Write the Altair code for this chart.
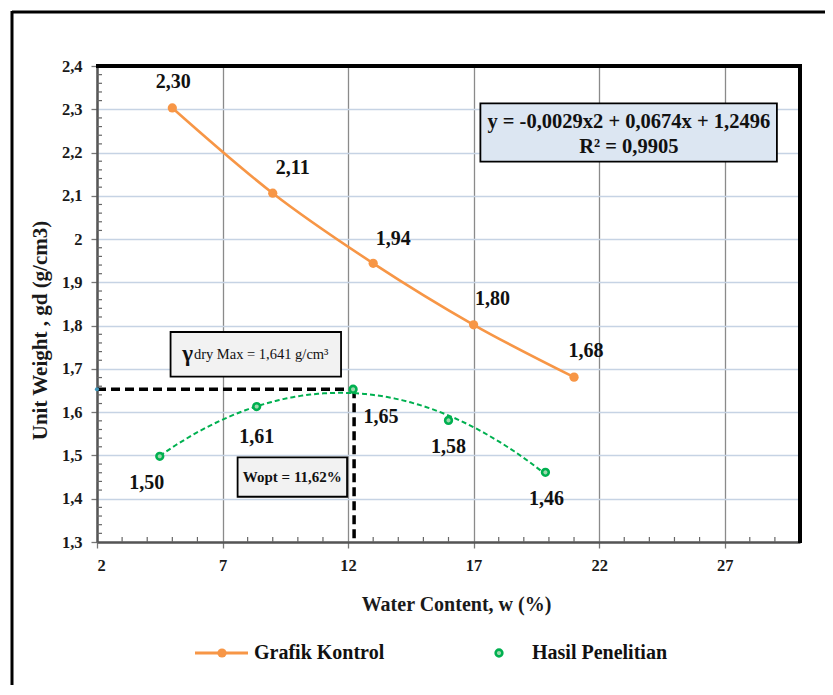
import altair as alt
import pandas as pd

# ---------------- data ----------------
w_kontrol = [5, 9, 13, 17, 21]
gd_kontrol = [2.303, 2.106, 1.944, 1.802, 1.681]
lab_kontrol = ["2,30", "2,11", "1,94", "1,80", "1,68"]

w_hasil = [4.5, 8.36, 12.2, 16.0, 19.86]
gd_hasil = [1.498, 1.613, 1.653, 1.581, 1.461]
lab_hasil = ["1,50", "1,61", "1,65", "1,58", "1,46"]

w_opt_line = 12.24
gd_max_line = 1.653

x_ticks = [2, 7, 12, 17, 22, 27]
y_ticks = [1.3, 1.4, 1.5, 1.6, 1.7, 1.8, 1.9, 2.0, 2.1, 2.2, 2.3, 2.4]
x_domain = [2, 30]
y_domain = [1.3, 2.4]

eq_lines = ["y = -0,0029x2 + 0,0674x + 1,2496", "R² = 0,9905"]
gamma_sym = "γ"
gamma_text = "dry Max = 1,641  g/cm³"
wopt_text = "Wopt = 11,62%"
series_names = ["Grafik Kontrol", "Hasil Penelitian"]
x_title = "Water Content, w (%)"
y_title = "Unit  Weight , gd (g/cm3)"

# ---------------- styles ----------------
SERIF = "Liberation Serif"
ORANGE = "#f79646"
GREEN = "#00b050"
GREEN_FILL = "#9fd8ae"

ctrl_label_off = [(1, -26), (20, -25), (20, -24), (19, -26), (12, -26)]
hasil_label_off = [(-13, 27), (0, 30), (28, 28), (0, 27), (1, 27)]

W, H = 703, 476

df_k = pd.DataFrame({"x": w_kontrol, "y": gd_kontrol, "lab": lab_kontrol,
                     "i": list(range(len(w_kontrol)))})
df_h = pd.DataFrame({"x": w_hasil, "y": gd_hasil, "lab": lab_hasil,
                     "i": list(range(len(w_hasil)))})

xscale = alt.Scale(domain=x_domain, nice=False, zero=False)
yscale = alt.Scale(domain=y_domain, nice=False, zero=False)

xaxis = alt.Axis(values=x_ticks, grid=True, gridColor="#8a8a8a", gridWidth=1.3,
                 domain=True, domainColor="#555555", domainWidth=2.5,
                 ticks=True, tickColor="#777777", tickSize=6, tickWidth=1.3,
                 labelFont=SERIF, labelFontSize=16.5, labelFontWeight="bold",
                 labelColor="#1a1a1a", labelPadding=9,
                 title=x_title, titleFont=SERIF, titleFontSize=20,
                 titleFontWeight="bold", titleColor="#1a1a1a",
                 titleX=359, titleY=62, titleAlign="center",
                 titleBaseline="middle")
yaxis = alt.Axis(values=y_ticks, grid=True, gridColor="#c6d3e4", gridWidth=1.3,
                 domain=True, domainColor="#555555", domainWidth=2.5,
                 ticks=True, tickColor="#777777", tickSize=6, tickWidth=1.3,
                 labelFont=SERIF, labelFontSize=16.5, labelFontWeight="bold",
                 labelColor="#1a1a1a", labelPadding=9,
                 labelExpr="replace(format(datum.value, '.1~f'), '.', ',')",
                 title=y_title, titleFont=SERIF, titleFontSize=21,
                 titleFontWeight="bold", titleColor="#1a1a1a",
                 titleX=-57, titleY=264, titleAngle=270, titleAlign="center",
                 titleBaseline="middle")

X = alt.X("x:Q", scale=xscale, axis=xaxis)
Y = alt.Y("y:Q", scale=yscale, axis=yaxis)
X2 = alt.X2("x2:Q")
Y2 = alt.Y2("y2:Q")

one = pd.DataFrame({"a": [0]})
layers = []

# base (axes)
layers.append(alt.Chart(df_k).mark_point(opacity=0).encode(x=X, y=Y))

# minor ticks (axis decoration)
minor_x = pd.DataFrame({"x": [v for v in range(3, 30) if (v - 2) % 5 != 0]})
minor_y = pd.DataFrame({"y": [round(1.3 + 0.02 * k, 2) for k in range(1, 55) if k % 5 != 0]})
layers.append(alt.Chart(minor_x).mark_rule(color="#666666", strokeWidth=1.2).encode(
    x=X, y=alt.value(H), y2=alt.value(H - 5)))
layers.append(alt.Chart(minor_y).mark_rule(color="#666666", strokeWidth=1.2).encode(
    y=Y, x=alt.value(0), x2=alt.value(5)))

# annotation boxes
boxes = pd.DataFrame({
    "x": [17.27, 4.93, 7.60], "x2": [29.08, 11.72, 11.96],
    "y": [2.3138, 1.7853, 1.4957], "y2": [2.1788, 1.682, 1.4046],
    "fill": ["#dce6f2", "#f2f2f2", "#f2f2f2"],
})
layers.append(alt.Chart(boxes).mark_rect(stroke="black", strokeWidth=1.8).encode(
    x=X, x2=X2, y=Y, y2=Y2, fill=alt.Fill("fill:N", scale=None)))

eq_df = pd.DataFrame({"x": [23.18, 23.18], "y": [2.2713, 2.2135], "t": eq_lines})
layers.append(alt.Chart(eq_df).mark_text(font=SERIF, fontSize=20.5, fontWeight="bold",
                                         color="#111111", baseline="middle").encode(
    x=X, y=Y, text="t:N"))

gam_df = pd.DataFrame({"x": [5.82], "y": [1.734], "t": [gamma_sym]})
layers.append(alt.Chart(gam_df).mark_text(font=SERIF, fontSize=23, fontWeight="bold",
                                          color="#111111", baseline="middle", align="right").encode(
    x=X, y=Y, text="t:N"))
gam2_df = pd.DataFrame({"x": [5.86], "y": [1.732], "t": [gamma_text]})
layers.append(alt.Chart(gam2_df).mark_text(font=SERIF, fontSize=14.5,
                                           color="#111111", baseline="middle", align="left").encode(
    x=X, y=Y, text="t:N"))
wopt_df = pd.DataFrame({"x": [9.78], "y": [1.45], "t": [wopt_text]})
layers.append(alt.Chart(wopt_df).mark_text(font=SERIF, fontSize=15, fontWeight="bold",
                                           color="#111111", baseline="middle").encode(
    x=X, y=Y, text="t:N"))

# dashed optimum lines
hline = pd.DataFrame({"x": [x_domain[0]], "x2": [w_opt_line], "y": [gd_max_line]})
vline = pd.DataFrame({"x": [w_opt_line], "y": [gd_max_line], "y2": [y_domain[0]]})
layers.append(alt.Chart(hline).mark_rule(color="black", strokeWidth=3.5,
                                         strokeDash=[9, 5]).encode(x=X, x2=X2, y=Y))
layers.append(alt.Chart(vline).mark_rule(color="black", strokeWidth=3.5,
                                         strokeDash=[9, 5]).encode(x=X, y=Y, y2=Y2))

# Grafik Kontrol
layers.append(alt.Chart(df_k).mark_line(color=ORANGE, strokeWidth=2.6,
                                        interpolate="monotone").encode(x=X, y=Y))
layers.append(alt.Chart(df_k).mark_point(filled=True, color=ORANGE, size=85,
                                         opacity=1).encode(x=X, y=Y))
for i, (dx, dy) in enumerate(ctrl_label_off):
    layers.append(alt.Chart(df_k).transform_filter(alt.datum.i == i).mark_text(
        font=SERIF, fontSize=20, fontWeight="bold", color="#111111",
        dx=dx, dy=dy, baseline="middle").encode(x=X, y=Y, text="lab:N"))

# Hasil Penelitian: polynomial trendline + points
layers.append(alt.Chart(df_h).transform_regression(
    "x", "y", method="poly", order=2, extent=[w_hasil[0], w_hasil[-1]]
).mark_line(color=GREEN, strokeWidth=2, strokeDash=[5, 3]).encode(x=X, y=Y))
layers.append(alt.Chart(df_h).mark_point(filled=True, fill=GREEN_FILL, stroke=GREEN,
                                         strokeWidth=2.6, size=45, opacity=1).encode(x=X, y=Y))
for i, (dx, dy) in enumerate(hasil_label_off):
    layers.append(alt.Chart(df_h).transform_filter(alt.datum.i == i).mark_text(
        font=SERIF, fontSize=20, fontWeight="bold", color="#111111",
        dx=dx, dy=dy, baseline="middle").encode(x=X, y=Y, text="lab:N"))

# small marker on y axis at max dry density
layers.append(alt.Chart(pd.DataFrame({"x": [x_domain[0]], "y": [gd_max_line]})).mark_point(
    filled=True, color="#3f94b8", size=18, opacity=1).encode(x=X, y=Y))

# plot frame top & right (thick black)
layers.append(alt.Chart(one).mark_rule(color="black", strokeWidth=4).encode(
    x=alt.value(-1), x2=alt.value(W + 2), y=alt.value(0)))
layers.append(alt.Chart(one).mark_rule(color="black", strokeWidth=4).encode(
    x=alt.value(W), y=alt.value(0), y2=alt.value(H + 1)))

# legend (manual)
LY = 587
layers.append(alt.Chart(one).mark_rule(color=ORANGE, strokeWidth=3).encode(
    x=alt.value(98), x2=alt.value(151), y=alt.value(LY)))
layers.append(alt.Chart(one).mark_point(filled=True, color=ORANGE, size=85, opacity=1).encode(
    x=alt.value(125), y=alt.value(LY)))
layers.append(alt.Chart(one).mark_point(filled=True, fill=GREEN_FILL, stroke=GREEN,
                                        strokeWidth=2.6, size=45, opacity=1).encode(
    x=alt.value(402), y=alt.value(LY)))
layers.append(alt.Chart(pd.DataFrame({"t": [series_names[0]]})).mark_text(
    font=SERIF, fontSize=20, fontWeight="bold", color="#111111", align="left",
    baseline="middle").encode(x=alt.value(157), y=alt.value(LY), text="t:N"))
layers.append(alt.Chart(pd.DataFrame({"t": [series_names[1]]})).mark_text(
    font=SERIF, fontSize=20, fontWeight="bold", color="#111111", align="left",
    baseline="middle").encode(x=alt.value(435), y=alt.value(LY), text="t:N"))

# outer chart border (left and top edges; right/bottom fall outside the page)
layers.append(alt.Chart(one).mark_rule(color="black", strokeWidth=3).encode(
    x=alt.value(-85), x2=alt.value(740), y=alt.value(-54)))
layers.append(alt.Chart(one).mark_rule(color="black", strokeWidth=3).encode(
    x=alt.value(-85), y=alt.value(-55), y2=alt.value(640)))

chart = alt.layer(*layers).properties(
    width=W, height=H,
    padding={"left": 89, "top": 58, "right": 25, "bottom": 143},
    autosize=alt.AutoSizeParams(type="none"),
    background="white",
).configure_view(stroke="transparent", strokeWidth=0)

chart.save("out.html", embed_options={"renderer": "svg", "actions": False})
